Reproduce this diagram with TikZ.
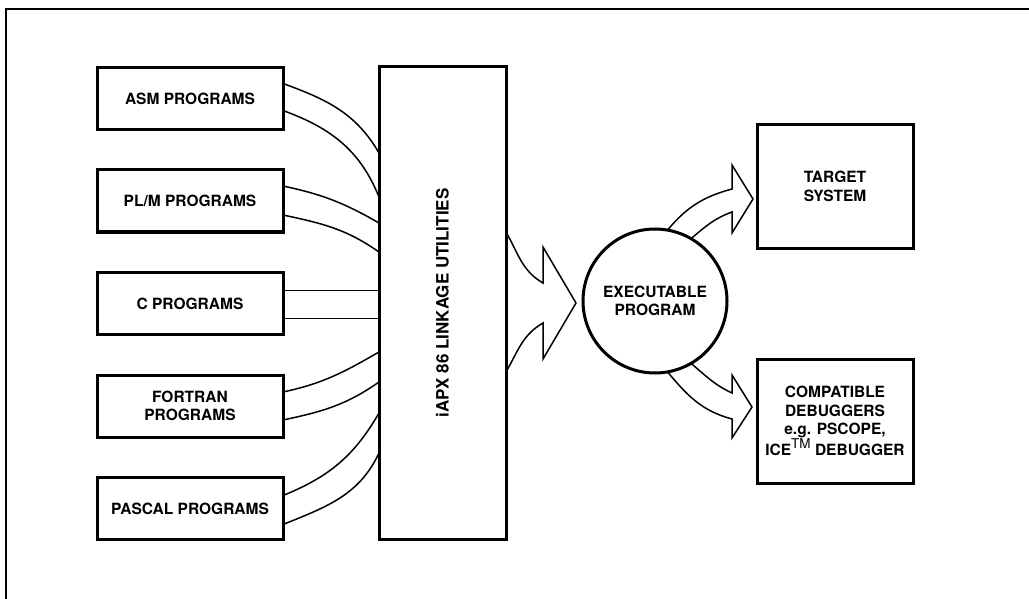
\documentclass[tikz,border=0pt]{standalone}
\usepackage{fontspec}
\setmainfont{TeX Gyre Heros}
\usepackage{tikz}
\usetikzlibrary{positioning,calc}
\tikzset{
  lk/.style={x=1pt, y=1pt, every node/.style={draw, line width=3pt, outer sep=0pt, align=center, font=\fontsize{15.5}{18.5}\selectfont\bfseries}},
  prog/.style={rectangle, minimum width=186pt, minimum height=62pt},
  util/.style={rectangle, minimum width=127pt, minimum height=472pt},
  exe/.style={circle, minimum size=144pt, inner sep=0pt},
  dest/.style={rectangle, minimum width=156pt, minimum height=123pt, inner sep=1pt},
  wire/.style={line width=1.5pt},
  hollow/.style={line width=1.5pt, line join=miter},
  frame/.style={line width=2.8pt}
}
\newcommand{\tm}{\raisebox{0.45em}{\fontsize{13.5}{13.5}\selectfont\mdseries TM}}

\begin{document}
\begin{tikzpicture}[lk]
\useasboundingbox (0,0) rectangle (1029,-599);
\draw[frame] (6,-599) -- (6,-9) -- (1029,-9);
% source programs
\node[prog] (asm) at (190,-98.5) {ASM PROGRAMS};
\node[prog, below=40.5pt of asm] (plm) {PL/M PROGRAMS};
\node[prog, below=40.5pt of plm] (cprog) {C PROGRAMS};
\node[prog, below=40.5pt of cprog] (fort) {FORTRAN\\PROGRAMS};
\node[prog, below=40.5pt of fort] (pasc) {PASCAL PROGRAMS};
\node[util] (util) at (442.5,-303) {\fontsize{17}{19}\selectfont\rotatebox{90}{iAPX 86 LINKAGE UTILITIES}};
\node[exe] (exe) at (655,-301) {EXECUTABLE\\PROGRAM};
\node[dest] (tgt) at (835,-186.5) {TARGET\\SYSTEM};
\node[dest, below=111pt of tgt, minimum height=124pt] (dbg) {COMPATIBLE\\DEBUGGERS\\e.g. PSCOPE,\\ICE\tm{} DEBUGGER};
% wires into the linker
\draw[wire] ([yshift=15pt]asm.east) to[out=-20,in=120] ([yshift=150pt]util.west);
\draw[wire] ([yshift=-12pt]asm.east) to[out=-20,in=112] ([yshift=106pt]util.west);
\draw[wire] ([yshift=15pt]plm.east) to[out=-12,in=150] ([yshift=80pt]util.west);
\draw[wire] ([yshift=-14pt]plm.east) to[out=-12,in=145] ([yshift=51pt]util.west);
\draw[wire] ([yshift=13pt]cprog.east) -- ([yshift=13pt]cprog.east -| util.west);
\draw[wire] ([yshift=-15pt]cprog.east) -- ([yshift=-15pt]cprog.east -| util.west);
\draw[wire] ([yshift=14pt]fort.east) to[out=12,in=-150] ([yshift=-49pt]util.west);
\draw[wire] ([yshift=-14pt]fort.east) to[out=12,in=-145] ([yshift=-79pt]util.west);
\draw[wire] ([yshift=13pt]pasc.east) to[out=22,in=-120] ([yshift=-110pt]util.west);
\draw[wire] ([yshift=-16pt]pasc.east) to[out=22,in=-115] ([yshift=-150pt]util.west);
% hollow arrows
\coordinate (tip) at ([xshift=-7pt,yshift=-2pt]exe.west);
\coordinate (tip1) at ([xshift=-4pt,yshift=-12.5pt]tgt.west);
\coordinate (tip2) at ([xshift=-5pt,yshift=14pt]dbg.west);
\draw[hollow] ([yshift=71pt]util.east) to[out=-60,in=150] ($(tip)+(-33,20)$) -- ++(0,36) -- (tip)
  -- ++(-33,-56) -- ++(0,36) to[out=-150,in=60] ([yshift=-69pt]util.east);
\draw[hollow] (exe.80) to[out=50,in=195] ($(tip1)+(-21,10)$) -- ++(0,24) -- (tip1)
  -- ++(-21,-34) -- ++(0,21) to[out=200,in=40] (exe.60);
\draw[hollow] (exe.-80) to[out=-50,in=165] ($(tip2)+(-20,-12)$) -- ++(0,-19) -- (tip2)
  -- ++(-20,32) -- ++(0,-18) to[out=155,in=-40] (exe.-60);
\end{tikzpicture}
\end{document}
